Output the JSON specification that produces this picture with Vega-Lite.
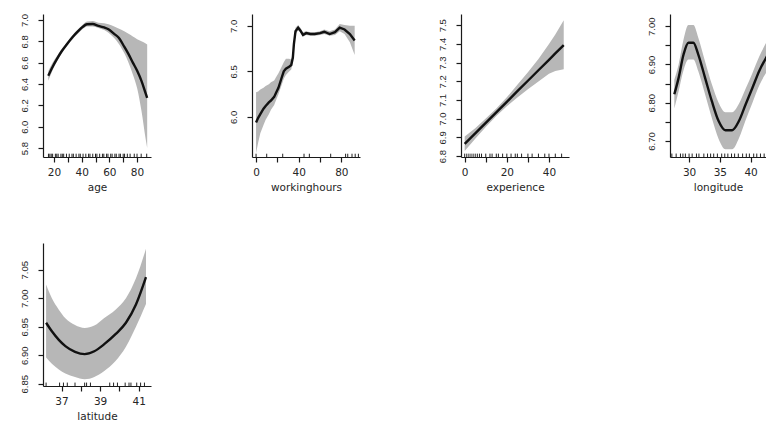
{
  "$schema": "https://vega.github.io/schema/vega-lite/v6.json",
  "autosize": {"type": "pad"},
  "padding": {"left": 19, "top": 13, "right": 0, "bottom": 0},
  "background": "white",
  "bounds": "flush",
  "columns": 4,
  "spacing": {"row": 86, "column": 101},
  "datasets": {
    "age": [
      {"x": 15.86, "fit": 6.477, "lo": 6.43, "hi": 6.52},
      {"x": 18.96, "fit": 6.56, "lo": 6.53, "hi": 6.6},
      {"x": 22.07, "fit": 6.633, "lo": 6.61, "hi": 6.66},
      {"x": 25.18, "fit": 6.7, "lo": 6.68, "hi": 6.72},
      {"x": 29.32, "fit": 6.773, "lo": 6.755, "hi": 6.79},
      {"x": 33.47, "fit": 6.84, "lo": 6.82, "hi": 6.86},
      {"x": 37.61, "fit": 6.897, "lo": 6.875, "hi": 6.915},
      {"x": 40.72, "fit": 6.935, "lo": 6.915, "hi": 6.955},
      {"x": 43.83, "fit": 6.96, "lo": 6.94, "hi": 6.985},
      {"x": 47.97, "fit": 6.962, "lo": 6.94, "hi": 6.99},
      {"x": 52.12, "fit": 6.944, "lo": 6.925, "hi": 6.975},
      {"x": 56.26, "fit": 6.93, "lo": 6.905, "hi": 6.97},
      {"x": 59.37, "fit": 6.913, "lo": 6.88, "hi": 6.96},
      {"x": 63.51, "fit": 6.87, "lo": 6.83, "hi": 6.94},
      {"x": 66.62, "fit": 6.835, "lo": 6.78, "hi": 6.92},
      {"x": 70.76, "fit": 6.75, "lo": 6.69, "hi": 6.895},
      {"x": 73.87, "fit": 6.68, "lo": 6.6, "hi": 6.87},
      {"x": 76.98, "fit": 6.6, "lo": 6.49, "hi": 6.845},
      {"x": 80.09, "fit": 6.524, "lo": 6.36, "hi": 6.82},
      {"x": 83.2, "fit": 6.43, "lo": 6.15, "hi": 6.8},
      {"x": 86.3, "fit": 6.31, "lo": 5.88, "hi": 6.78},
      {"x": 87.34, "fit": 6.27, "lo": 5.8, "hi": 6.77}
    ],
    "age_rug": [
      {"x": 16}, {"x": 17}, {"x": 18}, {"x": 19}, {"x": 21}, {"x": 22}, {"x": 23}, {"x": 25}, {"x": 26}, {"x": 27}, {"x": 29}, {"x": 31}, {"x": 33}, {"x": 34},
      {"x": 36}, {"x": 38}, {"x": 39}, {"x": 41}, {"x": 43}, {"x": 45}, {"x": 46}, {"x": 48}, {"x": 50}, {"x": 51}, {"x": 53}, {"x": 55}, {"x": 56}, {"x": 58}, {"x": 59},
      {"x": 61}, {"x": 62}, {"x": 64}, {"x": 65}, {"x": 67}, {"x": 68}, {"x": 70}, {"x": 71}, {"x": 73}, {"x": 75}, {"x": 78}, {"x": 80}, {"x": 83}, {"x": 87}
    ],
    "workinghours": [
      {"x": 0, "fit": 5.94, "lo": 5.6, "hi": 6.27},
      {"x": 2, "fit": 5.99, "lo": 5.72, "hi": 6.28},
      {"x": 4, "fit": 6.03, "lo": 5.82, "hi": 6.3},
      {"x": 7, "fit": 6.09, "lo": 5.91, "hi": 6.32},
      {"x": 9, "fit": 6.12, "lo": 5.97, "hi": 6.34},
      {"x": 12, "fit": 6.16, "lo": 6.03, "hi": 6.36},
      {"x": 14, "fit": 6.18, "lo": 6.08, "hi": 6.38},
      {"x": 17, "fit": 6.22, "lo": 6.13, "hi": 6.4},
      {"x": 19, "fit": 6.27, "lo": 6.19, "hi": 6.44},
      {"x": 21, "fit": 6.32, "lo": 6.25, "hi": 6.48},
      {"x": 24, "fit": 6.43, "lo": 6.35, "hi": 6.55},
      {"x": 26, "fit": 6.5, "lo": 6.42, "hi": 6.6},
      {"x": 28, "fit": 6.53, "lo": 6.46, "hi": 6.64},
      {"x": 31, "fit": 6.55, "lo": 6.5, "hi": 6.64},
      {"x": 33, "fit": 6.57, "lo": 6.52, "hi": 6.63},
      {"x": 34.5, "fit": 6.65, "lo": 6.6, "hi": 6.7},
      {"x": 35.5, "fit": 6.8, "lo": 6.76, "hi": 6.84},
      {"x": 37, "fit": 6.94, "lo": 6.91, "hi": 6.98},
      {"x": 39.5, "fit": 6.98, "lo": 6.95, "hi": 7.01},
      {"x": 41.5, "fit": 6.95, "lo": 6.93, "hi": 6.98},
      {"x": 44, "fit": 6.9, "lo": 6.88, "hi": 6.93},
      {"x": 47, "fit": 6.92, "lo": 6.9, "hi": 6.94},
      {"x": 51, "fit": 6.91, "lo": 6.89, "hi": 6.93},
      {"x": 55, "fit": 6.91, "lo": 6.89, "hi": 6.93},
      {"x": 60, "fit": 6.92, "lo": 6.9, "hi": 6.94},
      {"x": 64, "fit": 6.935, "lo": 6.91, "hi": 6.96},
      {"x": 69, "fit": 6.91, "lo": 6.89, "hi": 6.94},
      {"x": 74, "fit": 6.93, "lo": 6.9, "hi": 6.96},
      {"x": 78.5, "fit": 6.98, "lo": 6.94, "hi": 7.02},
      {"x": 83, "fit": 6.96, "lo": 6.91, "hi": 7.01},
      {"x": 88, "fit": 6.91, "lo": 6.82, "hi": 7.0},
      {"x": 92.5, "fit": 6.84, "lo": 6.68, "hi": 7.0}
    ],
    "workinghours_rug": [
      {"x": 0}, {"x": 10}, {"x": 25}, {"x": 45}, {"x": 50}, {"x": 70}, {"x": 84}, {"x": 86}, {"x": 90}, {"x": 93}, {"x": 96}
    ],
    "experience": [
      {"x": 0, "fit": 6.865, "lo": 6.827, "hi": 6.905},
      {"x": 5, "fit": 6.921, "lo": 6.893, "hi": 6.949},
      {"x": 10, "fit": 6.978, "lo": 6.955, "hi": 7.001},
      {"x": 15, "fit": 7.034, "lo": 7.014, "hi": 7.054},
      {"x": 20, "fit": 7.09, "lo": 7.066, "hi": 7.114},
      {"x": 25, "fit": 7.147, "lo": 7.113, "hi": 7.181},
      {"x": 30, "fit": 7.203, "lo": 7.158, "hi": 7.248},
      {"x": 35, "fit": 7.259, "lo": 7.199, "hi": 7.319},
      {"x": 40, "fit": 7.315, "lo": 7.24, "hi": 7.4},
      {"x": 43, "fit": 7.349, "lo": 7.255, "hi": 7.45},
      {"x": 47, "fit": 7.394, "lo": 7.265, "hi": 7.526}
    ],
    "experience_rug": [
      {"x": 0}, {"x": 1}, {"x": 2}, {"x": 3}, {"x": 4}, {"x": 5}, {"x": 6}, {"x": 7}, {"x": 8}, {"x": 10},
      {"x": 12}, {"x": 13}, {"x": 15}, {"x": 16}, {"x": 18}, {"x": 20}, {"x": 22}, {"x": 24}, {"x": 25}, {"x": 27},
      {"x": 30}, {"x": 32}, {"x": 35}, {"x": 38}, {"x": 40}, {"x": 43}, {"x": 46}
    ],
    "longitude": [
      {"x": 27.6, "fit": 6.822, "lo": 6.785, "hi": 6.86},
      {"x": 28.3, "fit": 6.865, "lo": 6.83, "hi": 6.9},
      {"x": 29.1, "fit": 6.926, "lo": 6.885, "hi": 6.965},
      {"x": 29.9, "fit": 6.957, "lo": 6.913, "hi": 7.003},
      {"x": 30.7, "fit": 6.957, "lo": 6.913, "hi": 7.003},
      {"x": 31.5, "fit": 6.926, "lo": 6.882, "hi": 6.97},
      {"x": 32.6, "fit": 6.865, "lo": 6.822, "hi": 6.908},
      {"x": 33.7, "fit": 6.804, "lo": 6.76, "hi": 6.848},
      {"x": 34.8, "fit": 6.752, "lo": 6.705, "hi": 6.8},
      {"x": 35.9, "fit": 6.728, "lo": 6.678, "hi": 6.775},
      {"x": 37.0, "fit": 6.728, "lo": 6.678, "hi": 6.775},
      {"x": 38.1, "fit": 6.752, "lo": 6.707, "hi": 6.797},
      {"x": 39.2, "fit": 6.796, "lo": 6.755, "hi": 6.837},
      {"x": 40.3, "fit": 6.839, "lo": 6.8, "hi": 6.878},
      {"x": 41.4, "fit": 6.883, "lo": 6.845, "hi": 6.921},
      {"x": 42.5, "fit": 6.917, "lo": 6.878, "hi": 6.956},
      {"x": 43.6, "fit": 6.945, "lo": 6.9, "hi": 6.99},
      {"x": 44.6, "fit": 6.965, "lo": 6.91, "hi": 7.02}
    ],
    "longitude_rug": [
      {"x": 27.2}, {"x": 27.9}, {"x": 28.6}, {"x": 29.0}, {"x": 29.4}, {"x": 30.0}, {"x": 30.5}, {"x": 31.2}, {"x": 31.6}, {"x": 32.4},
      {"x": 33.0}, {"x": 33.5}, {"x": 34.0}, {"x": 34.6}, {"x": 35.3}, {"x": 35.8}, {"x": 36.3}, {"x": 36.9}, {"x": 37.4}, {"x": 38.0},
      {"x": 38.7}, {"x": 39.3}, {"x": 39.8}, {"x": 40.5}, {"x": 41.0}, {"x": 41.6}, {"x": 42.2}
    ],
    "latitude": [
      {"x": 36.2, "fit": 6.957, "lo": 6.896, "hi": 7.024},
      {"x": 36.5, "fit": 6.942, "lo": 6.885, "hi": 7.0},
      {"x": 36.86, "fit": 6.927, "lo": 6.875, "hi": 6.98},
      {"x": 37.2, "fit": 6.916, "lo": 6.868, "hi": 6.965},
      {"x": 37.7, "fit": 6.906, "lo": 6.862, "hi": 6.953},
      {"x": 38.2, "fit": 6.902, "lo": 6.858, "hi": 6.948},
      {"x": 38.7, "fit": 6.907, "lo": 6.862, "hi": 6.952},
      {"x": 39.2, "fit": 6.919, "lo": 6.872, "hi": 6.965},
      {"x": 39.8, "fit": 6.937, "lo": 6.89, "hi": 6.98},
      {"x": 40.34, "fit": 6.957, "lo": 6.915, "hi": 7.0},
      {"x": 40.86, "fit": 6.989, "lo": 6.95, "hi": 7.035},
      {"x": 41.38, "fit": 7.037, "lo": 6.99, "hi": 7.087}
    ],
    "latitude_rug": [
      {"x": 36.2}, {"x": 36.9}, {"x": 37.1}, {"x": 37.3}, {"x": 37.7}, {"x": 38.2}, {"x": 38.3}, {"x": 38.5},
      {"x": 39.5}, {"x": 39.7}, {"x": 39.9}, {"x": 40.3}, {"x": 40.5}, {"x": 40.6}, {"x": 40.9}, {"x": 41.1}, {"x": 41.3}
    ]
  },
  "concat": [
    {
      "width": 108, "height": 143,
      "data": {"name": "age"},
      "encoding": {
        "x": {"field": "x", "type": "quantitative", "scale": {"domain": [12.05, 90.1], "nice": false, "zero": false},
              "axis": {"title": "age", "values": [20, 30, 40, 50, 60, 70, 80], "labelOverlap": false, "labelExpr": "datum.value % 20 == 0 ? datum.label : ''"}}
      },
      "layer": [
        {"mark": {"type": "area", "color": "#b7b7b7", "clip": true, "interpolate": "monotone"},
         "encoding": {
           "y": {"field": "lo", "type": "quantitative", "scale": {"domain": [5.716, 7.056], "nice": false, "zero": false},
                 "axis": {"title": null, "values": [5.8, 6.0, 6.2, 6.4, 6.6, 6.8, 7.0], "format": ".1f", "labelOverlap": false}},
           "y2": {"field": "hi"}}},
        {"mark": {"type": "line", "color": "#111111", "strokeWidth": 2.4, "clip": true, "interpolate": "monotone"},
         "encoding": {"y": {"field": "fit", "type": "quantitative",
                 "axis": {"title": null, "values": [5.8, 6.0, 6.2, 6.4, 6.6, 6.8, 7.0], "format": ".1f", "labelOverlap": false}}}},
        {"data": {"name": "age_rug"},
         "mark": {"type": "rule", "color": "#222222", "strokeWidth": 1},
         "encoding": {"y": {"datum": 5.716, "type": "quantitative",
                 "axis": {"title": null, "values": [5.8, 6.0, 6.2, 6.4, 6.6, 6.8, 7.0], "format": ".1f", "labelOverlap": false}},
                      "y2": {"datum": 5.747}}}
      ]
    },
    {
      "width": 108, "height": 143,
      "data": {"name": "workinghours"},
      "encoding": {
        "x": {"field": "x", "type": "quantitative", "scale": {"domain": [-3.8, 97.5], "nice": false, "zero": false},
              "axis": {"title": "workinghours", "values": [0, 20, 40, 60, 80], "labelOverlap": false, "labelExpr": "datum.value % 40 == 0 ? datum.label : ''"}}
      },
      "layer": [
        {"mark": {"type": "area", "color": "#b7b7b7", "clip": true},
         "encoding": {
           "y": {"field": "lo", "type": "quantitative", "scale": {"domain": [5.56, 7.13], "nice": false, "zero": false},
                 "axis": {"title": null, "values": [6.0, 6.5, 7.0], "format": ".1f", "labelOverlap": false}},
           "y2": {"field": "hi"}}},
        {"mark": {"type": "line", "color": "#111111", "strokeWidth": 2.4, "clip": true},
         "encoding": {"y": {"field": "fit", "type": "quantitative",
                 "axis": {"title": null, "values": [6.0, 6.5, 7.0], "format": ".1f", "labelOverlap": false}}}},
        {"data": {"name": "workinghours_rug"},
         "mark": {"type": "rule", "color": "#222222", "strokeWidth": 1},
         "encoding": {"y": {"datum": 5.56, "type": "quantitative",
                 "axis": {"title": null, "values": [6.0, 6.5, 7.0], "format": ".1f", "labelOverlap": false}},
                      "y2": {"datum": 5.596}}}
      ]
    },
    {
      "width": 108, "height": 143,
      "data": {"name": "experience"},
      "encoding": {
        "x": {"field": "x", "type": "quantitative", "scale": {"domain": [-1.75, 49.5], "nice": false, "zero": false},
              "axis": {"title": "experience", "values": [0, 10, 20, 30, 40], "labelOverlap": false, "labelExpr": "datum.value % 20 == 0 ? datum.label : ''"}}
      },
      "layer": [
        {"mark": {"type": "area", "color": "#b7b7b7", "clip": true},
         "encoding": {
           "y": {"field": "lo", "type": "quantitative", "scale": {"domain": [6.795, 7.56], "nice": false, "zero": false},
                 "axis": {"title": null, "values": [6.8, 6.9, 7.0, 7.1, 7.2, 7.3, 7.4, 7.5], "format": ".1f", "labelOverlap": false}},
           "y2": {"field": "hi"}}},
        {"mark": {"type": "line", "color": "#111111", "strokeWidth": 2.4, "clip": true},
         "encoding": {"y": {"field": "fit", "type": "quantitative",
                 "axis": {"title": null, "values": [6.8, 6.9, 7.0, 7.1, 7.2, 7.3, 7.4, 7.5], "format": ".1f", "labelOverlap": false}}}},
        {"data": {"name": "experience_rug"},
         "mark": {"type": "rule", "color": "#222222", "strokeWidth": 1},
         "encoding": {"y": {"datum": 6.795, "type": "quantitative",
                 "axis": {"title": null, "values": [6.8, 6.9, 7.0, 7.1, 7.2, 7.3, 7.4, 7.5], "format": ".1f", "labelOverlap": false}},
                      "y2": {"datum": 6.813}}}
      ]
    },
    {
      "width": 96, "height": 143,
      "data": {"name": "longitude"},
      "encoding": {
        "x": {"field": "x", "type": "quantitative", "scale": {"domain": [26.9, 42.5], "nice": false, "zero": false},
              "axis": {"title": "longitude", "values": [30, 35, 40], "labelOverlap": false}}
      },
      "layer": [
        {"mark": {"type": "area", "color": "#b7b7b7", "clip": true, "interpolate": "monotone"},
         "encoding": {
           "y": {"field": "lo", "type": "quantitative", "scale": {"domain": [6.658, 7.032], "nice": false, "zero": false},
                 "axis": {"title": null, "values": [6.7, 6.75, 6.8, 6.85, 6.9, 6.95, 7.0], "format": ".2f", "labelOverlap": false,
                          "labelExpr": "abs(datum.value * 10 - round(datum.value * 10)) < 0.01 ? datum.label : ''"}},
           "y2": {"field": "hi"}}},
        {"mark": {"type": "line", "color": "#111111", "strokeWidth": 2.4, "clip": true, "interpolate": "monotone"},
         "encoding": {"y": {"field": "fit", "type": "quantitative",
                 "axis": {"title": null, "values": [6.7, 6.75, 6.8, 6.85, 6.9, 6.95, 7.0], "format": ".2f", "labelOverlap": false,
                          "labelExpr": "abs(datum.value * 10 - round(datum.value * 10)) < 0.01 ? datum.label : ''"}}}},
        {"data": {"name": "longitude_rug"},
         "mark": {"type": "rule", "color": "#222222", "strokeWidth": 1, "clip": true},
         "encoding": {"y": {"datum": 6.658, "type": "quantitative",
                 "axis": {"title": null, "values": [6.7, 6.75, 6.8, 6.85, 6.9, 6.95, 7.0], "format": ".2f", "labelOverlap": false,
                          "labelExpr": "abs(datum.value * 10 - round(datum.value * 10)) < 0.01 ? datum.label : ''"}},
                      "y2": {"datum": 6.667}}}
      ]
    },
    {
      "width": 108, "height": 143,
      "data": {"name": "latitude"},
      "encoding": {
        "x": {"field": "x", "type": "quantitative", "scale": {"domain": [36.04, 41.64], "nice": false, "zero": false},
              "axis": {"title": "latitude", "values": [37, 38, 39, 40, 41], "labelOverlap": false, "labelExpr": "datum.value % 2 == 1 ? datum.label : ''"}}
      },
      "layer": [
        {"mark": {"type": "area", "color": "#b7b7b7", "clip": true, "interpolate": "monotone"},
         "encoding": {
           "y": {"field": "lo", "type": "quantitative", "scale": {"domain": [6.846, 7.097], "nice": false, "zero": false},
                 "axis": {"title": null, "values": [6.85, 6.9, 6.95, 7.0, 7.05], "format": ".2f", "labelOverlap": false}},
           "y2": {"field": "hi"}}},
        {"mark": {"type": "line", "color": "#111111", "strokeWidth": 2.4, "clip": true, "interpolate": "monotone"},
         "encoding": {"y": {"field": "fit", "type": "quantitative",
                 "axis": {"title": null, "values": [6.85, 6.9, 6.95, 7.0, 7.05], "format": ".2f", "labelOverlap": false}}}},
        {"data": {"name": "latitude_rug"},
         "mark": {"type": "rule", "color": "#222222", "strokeWidth": 1},
         "encoding": {"y": {"datum": 6.846, "type": "quantitative",
                 "axis": {"title": null, "values": [6.85, 6.9, 6.95, 7.0, 7.05], "format": ".2f", "labelOverlap": false}},
                      "y2": {"datum": 6.852}}}
      ]
    }
  ],
  "config": {
    "view": {"stroke": null},
    "axis": {"grid": false, "domainColor": "#1a1a1a", "tickColor": "#1a1a1a", "labelColor": "#262626", "titleColor": "#262626",
             "tickSize": 5, "domainWidth": 1.2, "tickWidth": 1.2, "labelOverlap": false},
    "axisX": {"labelFont": "DejaVu Sans", "labelFontSize": 10.5, "labelPadding": 5,
              "titleFont": "DejaVu Sans", "titleFontSize": 10.5, "titleFontWeight": "normal", "titlePadding": 5},
    "axisY": {"labelFont": "Liberation Sans", "labelFontSize": 9.5, "labelAngle": -90, "labelAlign": "center",
              "labelBaseline": "bottom", "labelPadding": 9, "labelOverlap": false}
  }
}
